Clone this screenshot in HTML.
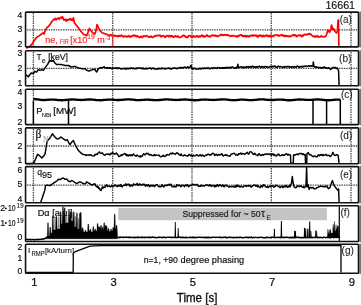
<!DOCTYPE html>
<html><head><meta charset="utf-8"><style>
html,body{margin:0;padding:0;background:#fff;width:361px;height:305px;overflow:hidden}
svg{display:block;will-change:transform}
text{font-family:"Liberation Sans",sans-serif}
</style></head><body>
<svg width="361" height="305" viewBox="0 0 361 305">
<rect width="361" height="305" fill="#fff"/>
<rect x="359.3" y="11.5" width="1.7" height="36" fill="#7a7a7a"/>
<rect x="359.3" y="50.2" width="1.7" height="36.2" fill="#7a7a7a"/>
<rect x="359.3" y="88.7" width="1.7" height="36.5" fill="#7a7a7a"/>
<rect x="359.3" y="127.3" width="1.7" height="37" fill="#7a7a7a"/>
<rect x="359.3" y="166" width="1.7" height="37.4" fill="#7a7a7a"/>
<rect x="359.3" y="205.2" width="1.7" height="36.9" fill="#7a7a7a"/>
<rect x="359.3" y="243.7" width="1.7" height="30.2" fill="#7a7a7a"/>
<line x1="33.4" y1="13" x2="33.4" y2="46.1" stroke="#4a4a4a" stroke-width="1.3" stroke-dasharray="1.5,0.9"/>
<line x1="112.7" y1="13" x2="112.7" y2="46.1" stroke="#4a4a4a" stroke-width="1.3" stroke-dasharray="1.5,0.9"/>
<line x1="192.0" y1="13" x2="192.0" y2="46.1" stroke="#4a4a4a" stroke-width="1.3" stroke-dasharray="1.5,0.9"/>
<line x1="271.3" y1="13" x2="271.3" y2="46.1" stroke="#4a4a4a" stroke-width="1.3" stroke-dasharray="1.5,0.9"/>
<line x1="351.0" y1="13" x2="351.0" y2="46.1" stroke="#4a4a4a" stroke-width="1.3" stroke-dasharray="1.5,0.9"/>
<line x1="33.4" y1="52" x2="33.4" y2="85" stroke="#4a4a4a" stroke-width="1.3" stroke-dasharray="1.5,0.9"/>
<line x1="112.7" y1="52" x2="112.7" y2="85" stroke="#4a4a4a" stroke-width="1.3" stroke-dasharray="1.5,0.9"/>
<line x1="192.0" y1="52" x2="192.0" y2="85" stroke="#4a4a4a" stroke-width="1.3" stroke-dasharray="1.5,0.9"/>
<line x1="271.3" y1="52" x2="271.3" y2="85" stroke="#4a4a4a" stroke-width="1.3" stroke-dasharray="1.5,0.9"/>
<line x1="351.0" y1="52" x2="351.0" y2="85" stroke="#4a4a4a" stroke-width="1.3" stroke-dasharray="1.5,0.9"/>
<line x1="33.4" y1="90" x2="33.4" y2="123.8" stroke="#4a4a4a" stroke-width="1.3" stroke-dasharray="1.5,0.9"/>
<line x1="112.7" y1="90" x2="112.7" y2="123.8" stroke="#4a4a4a" stroke-width="1.3" stroke-dasharray="1.5,0.9"/>
<line x1="192.0" y1="90" x2="192.0" y2="123.8" stroke="#4a4a4a" stroke-width="1.3" stroke-dasharray="1.5,0.9"/>
<line x1="271.3" y1="90" x2="271.3" y2="123.8" stroke="#4a4a4a" stroke-width="1.3" stroke-dasharray="1.5,0.9"/>
<line x1="351.0" y1="90" x2="351.0" y2="123.8" stroke="#4a4a4a" stroke-width="1.3" stroke-dasharray="1.5,0.9"/>
<line x1="33.4" y1="129" x2="33.4" y2="162.9" stroke="#4a4a4a" stroke-width="1.3" stroke-dasharray="1.5,0.9"/>
<line x1="112.7" y1="129" x2="112.7" y2="162.9" stroke="#4a4a4a" stroke-width="1.3" stroke-dasharray="1.5,0.9"/>
<line x1="192.0" y1="129" x2="192.0" y2="162.9" stroke="#4a4a4a" stroke-width="1.3" stroke-dasharray="1.5,0.9"/>
<line x1="271.3" y1="129" x2="271.3" y2="162.9" stroke="#4a4a4a" stroke-width="1.3" stroke-dasharray="1.5,0.9"/>
<line x1="351.0" y1="129" x2="351.0" y2="162.9" stroke="#4a4a4a" stroke-width="1.3" stroke-dasharray="1.5,0.9"/>
<line x1="33.4" y1="168" x2="33.4" y2="202" stroke="#4a4a4a" stroke-width="1.3" stroke-dasharray="1.5,0.9"/>
<line x1="112.7" y1="168" x2="112.7" y2="202" stroke="#4a4a4a" stroke-width="1.3" stroke-dasharray="1.5,0.9"/>
<line x1="192.0" y1="168" x2="192.0" y2="202" stroke="#4a4a4a" stroke-width="1.3" stroke-dasharray="1.5,0.9"/>
<line x1="271.3" y1="168" x2="271.3" y2="202" stroke="#4a4a4a" stroke-width="1.3" stroke-dasharray="1.5,0.9"/>
<line x1="351.0" y1="168" x2="351.0" y2="202" stroke="#4a4a4a" stroke-width="1.3" stroke-dasharray="1.5,0.9"/>
<line x1="27" y1="29.8" x2="357.7" y2="29.8" stroke="#4a4a4a" stroke-width="1.3" stroke-dasharray="1.5,0.9"/>
<line x1="27" y1="68.3" x2="357.7" y2="68.3" stroke="#4a4a4a" stroke-width="1.3" stroke-dasharray="1.5,0.9"/>
<line x1="27" y1="146.0" x2="357.7" y2="146.0" stroke="#4a4a4a" stroke-width="1.3" stroke-dasharray="1.5,0.9"/>
<line x1="27" y1="185.1" x2="357.7" y2="185.1" stroke="#4a4a4a" stroke-width="1.3" stroke-dasharray="1.5,0.9"/>
<path d="M26.3,48.2L26.9,47.9L27.5,47.6L28.1,47.3L28.62,46.95L29.15,46.6L29.68,46.25L30.2,45.9L30.7,45.4L31.2,44.9L31.7,44.4L32.2,43.9L32.73,43.02L33.25,42.15L33.77,41.27L34.3,40.4L34.82,39.7L35.35,39L35.88,38.3L36.4,37.6L36.92,37.25L37.45,36.9L37.98,36.55L38.5,36.2L39,35.88L39.5,35.55L40,35.23L40.5,34.9L41.2,34.2L41.9,33.5L42.6,33.15L43.3,32.8L44,34.2L44.7,32.1L45.4,30L46.1,28.95L46.8,27.9L47.32,27.4L47.85,26.9L48.38,26.4L48.9,25.9L49.4,25.2L49.9,24.5L50.4,23.8L50.9,23.1L51.6,22.05L52.3,21L53,20.26L53.7,19.36L54.4,19.76L55.1,18.42L55.8,19.39L56.5,19.64L57.2,18.27L57.9,18.29L58.55,18.2L59.2,19.39L59.9,18.19L60.6,17.33L61.17,17.51L61.73,18.21L62.3,16.73L62.85,17.54L63.4,19.37L64.1,20.08L64.8,19.39L65.5,19.49L66.2,21.16L66.9,19.28L67.6,20.06L68.25,19.94L68.9,19.92L69.6,18.91L70.3,18.52L70.83,19.91L71.35,19.21L71.88,19.87L72.4,20.37L72.95,18.84L73.5,17.93L74.4,22.9L74.95,23.57L75.5,24.25L76.05,24.93L76.6,25.6L77.17,26.3L77.75,27L78.33,27.7L78.9,28.4L79.45,29.22L80,30.05L80.55,30.88L81.1,31.7L81.66,32.26L82.22,32.82L82.78,33.38L83.34,33.94L83.9,34.5L84.44,34.72L84.98,34.94L85.52,35.16L86.06,35.38L86.6,35.6L87.17,34.3L87.73,33L88.3,31.7L88.85,30.05L89.4,28.4L89.95,29.25L90.5,30.1L91.05,30.77L91.6,31.45L92.15,32.12L92.7,32.8L93.25,33.07L93.8,33.35L94.35,33.62L94.9,33.9L95.45,32.25L96,30.6L96.55,27.55L97.1,24.5L97.7,25.9L98.3,27.3L98.83,28.4L99.37,29.5L99.9,30.6L100.45,31.15L101,31.7L101.55,32.25L102.1,32.8L102.67,32.98L103.23,33.17L103.8,33.35L104.37,33.53L104.93,33.72L105.5,33.9L106.04,34.12L106.58,34.34L107.12,34.56L107.66,34.78L108.2,35L108.8,35.27L109.4,35.53L110,35.1L110.5,34.75L111,34.8L111.5,35.57L112,35.49L112.5,35.26L113,35.57L113.5,35.54L114,35.29L114.5,35.98L115,36.16L115.5,35.52L116,35.78L116.5,35.83L117,36.42L117.5,36.47L118,35.8L118.5,36.62L119,35.62L119.5,35.67L120,36.25L120.5,35.55L121,35.79L121.5,35.17L122,35.91L122.5,36.39L123,36.31L123.5,36.76L124,36.06L124.5,36.36L125,36.34L125.5,36.31L126,36.1L126.5,36.63L127,37.03L127.5,36.47L128,36.52L128.5,35.58L129,36.18L129.5,36.37L130,37.01L130.5,37.05L131,36.22L131.5,36.02L132,36.4L132.5,35.55L133,35.89L133.5,35.58L134,35.37L134.5,35.2L135,36.27L135.5,35.75L136,35.71L136.5,35.94L137,36.83L137.5,35.97L138,36.19L138.5,36.47L139,37.14L139.5,37.35L140,37.53L140.5,36.66L141,36.49L141.5,36.32L142,37.08L142.5,37.54L143,36.46L143.5,36.01L144,35.89L144.5,35.84L145,36.22L145.5,36.56L146,36.18L146.5,35.6L147,36L147.5,36.1L148,36.46L148.5,37.24L149,37.17L149.5,36.85L150,36.87L150.5,36.97L151,36.02L151.5,36.95L152,37.17L152.5,37.42L153,37.41L153.5,36.75L154,36.47L154.5,35.87L155,36.44L155.5,35.78L156,35.5L156.5,35.59L157,35.56L157.5,35.83L158,35.49L158.5,35.25L159,35.38L159.5,35.36L160,35.77L160.5,35.41L161,36.6L161.5,36.72L162,36.03L162.5,35.88L163,35.97L163.5,36.03L164,35.67L164.5,36.67L165,37.35L165.5,36.81L166,36.6L166.5,35.86L167,35.56L167.5,35.8L168,35.79L168.5,36.68L169,36.01L169.5,35.49L170,36.74L170.5,36.62L171,35.96L171.5,36.29L172,35.62L172.5,36.11L173,37.05L173.5,37.29L174,37.13L174.5,36.36L175,36.18L175.5,35.78L176,36.57L176.5,36.54L177,36.91L177.5,36.36L178,35.95L178.5,36.7L179,37.31L179.5,37.37L180,37.33L180.5,37.32L181,37.19L181.5,36.31L182,36.37L182.5,36.14L183,35.51L183.5,35.22L184,35.49L184.5,35.58L185,36.31L185.5,37.06L186,36.58L186.5,37.14L187,37.47L187.5,37.57L188,36.66L188.5,36.02L189,35.74L189.5,35.56L190,35.49L190.5,36.13L191,36.85L191.5,37.07L192,36.59L192.5,36.64L193,36.9L193.5,35.86L194,36.31L194.5,36.91L195,36.97L195.5,36.93L196,36.48L196.5,35.79L197,36.45L197.5,36.01L198,36.56L198.5,37.07L199,36.38L199.5,36.07L200,36.8L200.5,36.76L201,35.85L201.5,35.37L202,35.19L202.5,36.31L203,36.65L203.5,35.74L204,36.41L204.5,36.95L205,36.68L205.5,36.06L206,36.09L206.5,35.43L207,34.94L207.5,36.24L208,36.31L208.5,36.14L209,36.71L209.5,36.16L210,36.61L210.5,36.73L211,35.8L211.5,35.43L212,35.33L212.5,35.2L213,35.68L213.5,35.38L214,35.49L214.5,35.07L215,36.12L215.5,35.68L216,35.64L216.5,35.8L217,36.37L217.5,35.84L218,36.38L218.5,35.94L219,35.78L219.5,35.67L220,34.8L220.5,35.07L221,34.76L221.5,34.32L222,35.38L222.5,34.77L223,34.92L223.5,35.33L224,35.2L224.5,34.71L225,34.74L225.5,34.96L226,35.48L226.5,34.69L227,35.11L227.5,34.86L228,34.84L228.5,35.6L229,35.53L229.5,35.59L230,35.95L230.5,36.36L231,35.8L231.5,35.83L232,35.68L232.5,35.64L233,35.91L233.5,35.66L234,35.69L234.5,35.62L235,36.34L235.5,36.29L236,36.56L236.5,36.79L237,35.81L237.5,35.86L238,36.51L238.5,36.64L239,35.59L239.5,35.1L240,35.4L240.5,34.94L241,35.01L241.5,34.77L242,35.62L242.5,36.19L243,36.63L243.5,35.64L244,36.1L244.5,36.22L245,35.45L245.5,36.29L246,36.8L246.5,35.84L247,36.58L247.5,36.03L248,35.93L248.5,36.69L249,36.78L249.5,35.76L250,35.73L250.5,35.85L251,35.63L251.5,35.3L252,35.35L252.5,36.03L253,35.21L253.5,35.7L254,35.74L254.5,35.08L255,35.29L255.5,35.86L256,35.94L256.5,35.26L257,36.43L257.5,36.64L258,37.03L258.5,35.83L259,35.54L259.5,35.06L260,36.02L260.5,35.64L261,35.24L261.5,35.53L262,36.44L262.5,36.7L263,35.92L263.5,35.39L264,36.38L264.5,36.27L265,36.43L265.5,35.52L266,35.06L266.5,35.86L267,35.8L267.5,35.2L268,36.32L268.5,36.33L269,36.61L269.5,35.58L270,36.35L270.5,35.44L271,36.29L271.5,36.03L272,35.72L272.5,35.92L273,36.61L273.5,35.87L274,35.31L274.5,35.69L275,35.4L275.5,35.06L276,34.99L276.5,34.78L277,34.93L277.5,35.17L278,35.26L278.5,36.03L279,35.62L279.5,35.78L280,35.33L280.5,35.4L281,34.9L281.5,35.04L282,34.73L282.5,35.74L283,35.9L283.5,35.39L284,35.62L284.5,36.46L285,35.51L285.5,36.22L286,35.92L286.5,35.88L287,36.41L287.5,35.93L288,35.9L288.5,36.18L289,36.77L289.5,36.01L290,36.45L290.5,36.45L291,36.33L291.5,35.91L292,35.63L292.5,35.03L293,34.88L293.5,34.72L294,35.71L294.5,35.38L295,35.09L295.5,34.83L296,35.92L296.5,36.45L297,36.37L297.5,35.72L298,35.35L298.5,35.27L299,35.5L299.5,35.12L300,35.4L300.5,35.17L301,36.15L301.5,36.57L302,36.03L302.5,35.27L303,36.05L303.5,35.3L304,35.01L304.5,34.27L305,34.5L305.5,34.76L306,34.91L306.5,34.47L307,34.75L307.5,34.05L308,34.14L308.5,33.88L309,34.25L309.5,33.82L310,33.58L310.5,34.12L311,34.34L311.5,35.11L312,35.46L312.5,36.08L313.01,36.21L313.52,36.41L314.04,36.81L314.55,36.25L315.06,35.95L315.58,36.92L316.09,36.06L316.6,36.65L317.12,36.72L317.64,35.79L318.15,36.62L318.67,37.08L319.19,36.85L319.71,36.91L320.23,37.05L320.75,36.03L321.26,36.17L321.78,36.2L322.3,36.73L322.84,36.85L323.39,36.91L323.93,36.5L324.47,36.78L325.01,36.52L325.56,36.39L326.1,35.54L327,33.18L327.8,29.8L328.7,31L329.5,32.3L330.15,31.05L330.8,29.8L331.5,25.1L332.1,26.8L332.9,29.8L333.8,28.9L334.45,30.2L335.1,31.5L335.7,32.15L336.3,32.8L336.85,32.35L337.4,31.9L338,20.4L338.5,20L338.9,47.5" fill="none" stroke="#f00" stroke-width="1.7" stroke-linejoin="round"/>
<path d="M26,75.6L26.7,75.2L27.23,75.73L27.77,76.27L28.3,76.8L28.87,76L29.43,75.2L30,74.4L30.53,73.9L31.07,73.4L31.6,72.9L32.17,73.13L32.73,73.37L33.3,73.6L33.87,72.83L34.43,72.07L35,71.3L35.53,71.57L36.07,71.83L36.6,72.1L37.17,71.27L37.73,70.43L38.3,69.6L38.87,69.87L39.43,70.13L40,70.4L40.53,70.13L41.07,69.87L41.6,69.6L42.17,69.87L42.73,70.13L43.3,70.4L43.83,69.57L44.37,68.73L44.9,67.9L45.4,67.24L45.9,66.58L46.4,65.92L46.9,65.26L47.4,64.6L47.9,63.78L48.4,62.96L48.9,62.14L49.4,61.32L49.9,60.5L50.47,60.77L51.03,61.03L51.6,61.3L52.17,61.03L52.73,60.77L53.3,60.5L53.83,61.33L54.37,62.17L54.9,63L55.47,63.53L56.03,64.07L56.6,64.6L57.13,64.6L57.67,64.6L58.2,64.6L58.77,64.6L59.33,64.6L59.9,64.6L60.47,64.6L61.03,64.6L61.6,64.6L62.15,64.73L62.7,64.87L63.25,65L63.8,65.13L64.35,65.27L64.9,65.4L65.45,65.4L66,65.4L66.55,65.4L67.1,65.4L67.65,65.4L68.2,65.4L68.75,65.68L69.3,65.97L69.85,66.25L70.4,66.53L70.95,66.82L71.5,67.1L72.07,66.97L72.63,66.83L73.2,66.7L73.77,66.57L74.33,66.43L74.9,66.3L75.45,66.57L76,66.83L76.55,67.1L77.1,67.37L77.65,67.63L78.2,67.9L78.75,68.02L79.3,68.13L79.85,68.25L80.4,68.37L80.95,68.48L81.5,68.6L82,68.63L82.5,68.66L83,68.69L83.5,68.71L84,68.74L84.5,68.77L85,68.8L85.53,69.27L86.07,69.73L86.6,70.2L87.1,70.38L87.6,70.56L88.1,70.74L88.6,70.92L89.1,71.1L89.6,70.86L90.1,70.62L90.6,70.38L91.1,70.14L91.6,69.9L92.17,69.8L92.73,69.7L93.3,69.6L93.87,69.5L94.43,69.4L95,69.3L95.6,70.55L96.2,71.8L96.8,71.9L97.3,70.87L97.8,69.83L98.3,68.8L98.85,68.6L99.4,68L99.95,67.93L100.5,67.48L101.05,68.01L101.6,67.73L102.1,67.68L102.6,67.59L103.1,67.56L103.6,67.27L104.1,66.57L104.62,67.42L105.15,67.72L105.67,67.65L106.2,67.77L106.72,68.05L107.25,67.58L107.77,68.28L108.3,68.07L108.84,67.72L109.39,67.79L109.93,68.29L110.48,67.84L111.02,68.26L111.57,68.61L112.11,68.16L112.66,67.87L113.2,67.85L113.72,68.15L114.23,68.37L114.75,68.32L115.26,68.37L115.78,67.81L116.29,67.76L116.81,67.91L117.32,68.53L117.84,68.28L118.35,68.54L118.87,68.05L119.38,68L119.9,68.25L120.45,68.76L121,68.93L121.55,68.96L122.1,68.55L122.65,68.67L123.2,68.65L123.72,68.62L124.23,68.2L124.75,68.91L125.26,68.34L125.78,69L126.29,69.13L126.81,68.14L127.32,68.3L127.84,68.73L128.35,69L128.87,68.49L129.38,68.11L129.9,67.92L130.41,68.68L130.91,68.1L131.41,68.34L131.92,67.93L132.43,68.24L132.93,68.8L133.44,68.07L133.94,68.61L134.44,68.44L134.95,68.8L135.46,68.71L135.96,68.17L136.47,68.75L136.97,68.47L137.47,67.88L137.98,67.69L138.49,68.17L138.99,68.27L139.5,68.14L140,67.93L140.5,68.09L141,68.11L141.5,68.7L142,67.96L142.5,68.56L143,68.84L143.5,68.14L144,68.82L144.5,68.79L145,69L145.5,68.39L146,68.3L146.5,68.3L147,68.97L147.5,68.72L148,68.4L148.5,68.38L149,68.21L149.5,67.91L150,67.89L150.5,68.69L151,68.33L151.5,68.94L152,68.37L152.5,68.22L153,68.45L153.5,68.17L154,68.29L154.5,68.97L155,69.1L155.5,69.06L156,68.86L156.5,69.11L157,69.22L157.5,68.82L158,68.9L158.5,68.18L159,68.73L159.5,68.58L160,68.87L160.5,68.84L161,68.43L161.5,68.05L162,68.89L162.5,68.27L163,68.45L163.5,68.37L164,68.29L164.5,68.75L165,69.14L165.5,68.47L166,68.7L166.5,68.38L167,68.56L167.5,68.44L168,68.15L168.5,68.05L169,68.07L169.5,68.84L170,68.62L170.5,68.25L171,68.89L171.5,69.18L172,68.66L172.5,68.16L173,68.07L173.5,67.93L174,68.16L174.5,67.95L175,68.05L175.5,68.04L176,68.35L176.5,68.75L177,68.68L177.5,68.25L178,68.08L178.5,68.12L179,67.92L179.5,67.79L180,67.4L180.5,67.49L181,68.23L181.5,67.49L182,67.65L182.5,67.79L183,68.05L183.5,67.38L184,67.2L184.5,67.09L185,67.18L185.5,67.25L186,67.82L186.5,67.86L187,67.89L187.5,66.94L188,66.66L188.5,67.3L189,67.69L189.5,67.33L190,67.33L190.5,65.89L191,65.33L191.5,66.99L192,68.07L192.5,69.13L193.03,69.29L193.55,68.55L194.08,68.18L194.61,68.12L195.14,68.52L195.66,68.82L196.19,69.2L196.72,69.08L197.25,68.97L197.77,69.07L198.3,68.77L198.81,68.76L199.31,68.18L199.82,68.81L200.32,68.38L200.83,69L201.34,68.87L201.84,68.44L202.35,68.11L202.85,68.13L203.36,68.55L203.87,68.73L204.37,68.12L204.88,67.88L205.38,68.3L205.89,68.47L206.4,68.3L206.9,68.05L207.41,68.38L207.92,67.82L208.42,67.96L208.93,68.16L209.43,68.76L209.94,68.58L210.45,68.77L210.95,68.37L211.46,67.97L211.96,67.85L212.47,68.59L212.98,68.52L213.48,68.05L213.99,67.58L214.49,67.95L215,68.24L215.5,68.04L216,67.79L216.5,68.15L217,68.54L217.5,67.87L218,67.45L218.5,67.65L219,67.79L219.5,68.11L220,67.66L220.5,68.17L221,68.25L221.5,68.01L222,67.6L222.5,68.3L223,67.78L223.5,68.17L224,67.63L224.5,67.45L225,67.97L225.5,67.61L226,68.21L226.5,67.88L227,67.43L227.5,67.33L228,67.5L228.5,67.81L229,68.21L229.5,67.43L230,67.46L230.5,67.26L231,68.03L231.5,67.33L232,67.01L232.5,66.91L233,67.24L233.5,67.88L234,68.04L234.5,67.91L235,68.15L235.5,68.14L236,67.47L236.5,67.09L237,67.79L237.5,67.78L237.9,64.2L238.4,67.46L238.93,67.28L239.47,67.23L240,67.16L240.5,66.94L241,66.67L241.5,66.88L242,67L242.5,67.69L243,66.96L243.5,67.65L244,67.01L244.5,66.96L245,67.44L245.5,67.57L246,67.16L246.5,66.6L247,66.88L247.5,66.83L248,67.4L248.5,66.76L249,66.74L249.5,67.3L250,66.5L250.5,66.68L251,67.17L251.5,67.26L252,66.49L252.5,66.25L253,66.2L253.5,67.13L254,66.67L254.5,67.07L255,67.36L255.5,66.82L256,66.58L256.5,67.26L257,67.09L257.5,66.64L258,67.01L258.5,66.67L259,66.52L259.5,66.18L260,66.9L260.5,67.29L261,67.09L261.5,67.37L262,66.44L262.5,66.38L263,66.63L263.5,67.23L264,67.4L264.5,66.83L265,66.5L265.5,66.6L266,66.69L266.5,67.2L267,66.53L267.5,67L268,67.07L268.5,67.18L269,67.16L269.5,66.96L270,66.59L270.5,66.47L271,66.48L271.5,66.95L272,66.32L272.5,66.27L273,66.86L273.5,66.49L274,66.18L274.5,66.06L275,66.6L275.5,66.51L276,67.21L276.5,67.32L277,67.47L277.5,66.72L278,66.3L278.5,66.19L279,66.61L279.5,66.97L280,66.79L280.5,66.51L281,66.63L281.5,66.89L282,67.03L282.5,67.16L283,67.31L283.5,67.16L284,66.52L284.5,67.12L285,66.7L285.5,66.88L286,66.73L286.5,67.09L287,66.6L287.5,66.52L288,66.49L288.5,66.39L289,67.16L289.5,67.06L290,66.76L290.5,66.73L291,67.36L291.5,67.01L292,66.59L292.5,67.09L293,67.06L293.5,67.41L294,66.53L294.5,66.66L295,67.07L295.5,67.21L296,67.32L296.5,66.38L297,66.37L297.5,66.16L298,66.16L298.5,67.02L299,66.83L299.5,67.15L300,66.62L300.51,66.99L301.02,66.64L301.52,66.31L302.03,66.77L302.54,67.08L303.05,66.24L303.55,66.52L304.06,66.62L304.57,66.19L305.08,66.22L305.58,65.97L306.09,65.95L306.6,65.99L307.13,66.36L307.67,66.51L308.2,66.05L308.73,65.68L309.27,65.9L309.8,66.33L310.33,65.9L310.87,65.9L311.4,65.76L311.93,66.35L312.47,66.24L313,65.65L313.3,62.03L314.1,66.71L314.63,67.03L315.15,67.27L315.68,66.78L316.21,66.76L316.74,67.39L317.26,67.3L317.79,67.18L318.32,67.22L318.85,67.98L319.37,67.55L319.9,67.75L320.4,67.54L320.9,67.53L321.4,68L321.9,68.27L322.4,67.65L322.9,67.26L323.4,67.72L323.9,67.26L324.4,66.89L324.9,67.75L325.47,67.61L326.03,68.08L326.6,67.85L327.17,68.39L327.73,68.17L328.3,67.85L328.9,67.79L329.5,68.52L330.1,68.99L330.7,69.59L331.27,68.39L331.83,68.34L332.4,67.77L332.9,67.81L333.4,67.38L333.9,67.36L334.4,67.58L334.9,68.04L335.4,67.42L335.9,67.74L336.4,68.27L336.9,68.69L337.4,68.05L338,69.14L338.6,71L339.1,86" fill="none" stroke="#000" stroke-width="1.5" stroke-linejoin="round"/>
<path d="M33.4,99.17L33.9,99.18L34.4,99.12L34.9,99.07L35.4,99.24L35.9,99.19L36.4,99.32L36.9,99.32L37.4,99.41L37.9,99.35L38.4,99.51L38.9,99.47L39.4,99.55L39.9,99.67L40.4,99.96L40.9,99.9L41.4,99.94L41.9,99.99L42.4,100.03L42.9,100.02L43.4,99.98L43.9,100L44.4,100.06L44.9,100.07L45.4,99.91L45.9,99.96L46.4,99.96L46.9,99.81L47.4,99.9L47.9,99.74L48.4,99.78L48.9,99.73L49.4,99.71L49.9,99.63L50.4,99.63L50.9,99.64L51.4,99.6L51.9,99.64L52.4,99.61L52.9,99.62L53.4,99.57L53.9,99.7L54.4,99.71L54.9,99.71L55.4,99.84L55.9,99.89L56.4,99.88L56.9,99.89L57.4,99.99L57.9,99.97L58.4,100.02L58.9,100.11L59.4,100.09L59.9,100.18L60.4,100.21L60.9,100.15L61.4,100.25L61.9,100.15L62.4,100.25L62.9,100.23L63.4,100.16L63.9,100.05L64.4,100.08L64.9,100.01L65.4,100.05L65.9,99.86L66.4,99.92L66.9,99.88L67.4,99.78L67.9,99.73L68.4,99.58L68.9,99.66L69.4,99.54L69.9,99.58L70.4,99.55L70.9,99.41L71.4,99.49L71.9,99.51L72.4,99.38L72.9,99.44L73.4,99.53L73.9,99.46L74.4,99.61L74.9,99.55L75.4,99.67L75.9,99.61L76.4,99.71L76.9,99.82L77.4,99.75L77.9,99.8L78.4,99.87L78.9,99.87L79.4,99.85L79.9,99.89L80.4,99.89L80.9,100.02L81.4,99.97L81.9,100L82.4,99.86L82.9,99.93L83.4,99.79L83.9,99.82L84.4,99.8L84.9,99.72L85.4,99.76L85.9,99.66L86.4,99.62L86.9,99.63L87.4,99.48L87.9,99.59L88.4,99.51L88.9,99.46L89.4,99.51L89.9,99.43L90.4,99.55L90.9,99.5L91.4,99.49L91.9,99.59L92.4,99.58L92.9,99.58L93.4,99.72L93.9,99.66L94.4,99.85L94.9,99.81L95.4,99.93L95.9,100.05L96.4,100.04L96.9,100.1L97.4,100.09L97.9,100.08L98.4,100.11L98.9,100.16L99.4,100.25L99.9,100.22L100.4,100.23L100.9,100.28L101.4,100.14L101.9,100.13L102.4,100.17L102.9,100.02L103.4,99.98L103.9,99.99L104.4,99.89L104.9,99.88L105.4,99.81L105.9,99.82L106.4,99.77L106.9,99.67L107.4,99.7L107.9,99.65L108.4,99.57L108.9,99.68L109.4,99.56L109.9,99.54L110.4,99.54L110.9,99.64L111.4,99.7L111.9,99.71L112.4,99.68L112.9,99.69L113.4,99.69L113.9,99.83L114.4,99.86L114.9,99.86L115.4,99.94L115.9,99.94L116.4,100.05L116.9,100.04L117.4,99.98L117.9,100.09L118.4,99.95L118.9,100.02L119.4,99.99L119.9,99.94L120.4,99.88L120.9,99.96L121.4,99.79L121.9,99.83L122.4,99.85L122.9,99.67L123.4,99.62L123.9,99.63L124.4,99.57L124.9,99.54L125.4,99.52L125.9,99.38L126.4,99.37L126.9,99.35L127.4,99.29L127.9,99.42L128.4,99.4L128.9,99.4L129.4,99.31L129.9,99.47L130.4,99.49L130.9,99.48L131.4,99.57L131.9,99.58L132.4,99.6L132.9,99.64L133.4,99.72L133.9,99.74L134.4,99.84L134.9,99.96L135.4,100L135.9,100.07L136.4,100.08L136.9,100.04L137.4,100.1L137.9,100.1L138.4,100.16L138.9,100.11L139.4,100.06L139.9,100.1L140.4,100.12L140.9,99.97L141.4,100.04L141.9,99.86L142.4,99.86L142.9,99.82L143.4,99.86L143.9,99.85L144.4,99.78L144.9,99.68L145.4,99.75L145.9,99.64L146.4,99.61L146.9,99.71L147.4,99.67L147.9,99.69L148.4,99.7L148.9,99.77L149.4,99.72L149.9,99.81L150.4,99.83L150.9,99.9L151.4,99.87L151.9,99.96L152.4,99.99L152.9,99.99L153.4,100.01L153.9,100.11L154.4,100.06L154.9,100.22L155.4,100.11L155.9,100.1L156.4,100.12L156.9,100.24L157.4,100.13L157.9,100.07L158.4,100.02L158.9,99.99L159.4,100.05L159.9,99.99L160.4,99.94L160.9,99.89L161.4,99.72L161.9,99.75L162.4,99.65L162.9,99.67L163.4,99.62L163.9,99.58L164.4,99.41L164.9,99.5L165.4,99.49L165.9,99.47L166.4,99.33L166.9,99.34L167.4,99.34L167.9,99.34L168.4,99.5L168.9,99.52L169.4,99.53L169.9,99.6L170.4,99.62L170.9,99.61L171.4,99.63L171.9,99.67L172.4,99.83L172.9,99.78L173.4,99.84L173.9,99.89L174.4,99.85L174.9,99.91L175.4,99.93L175.9,100.01L176.4,99.95L176.9,99.93L177.4,100.02L177.9,99.92L178.4,99.95L178.9,99.88L179.4,99.75L179.9,99.77L180.4,99.74L180.9,99.75L181.4,99.65L181.9,99.67L182.4,99.61L182.9,99.53L183.4,99.61L183.9,99.47L184.4,99.58L184.9,99.48L185.4,99.46L185.9,99.51L186.4,99.62L186.9,99.69L187.4,99.57L187.9,99.69L188.4,99.74L188.9,99.84L189.4,99.8L189.9,99.9L190.4,99.94L190.9,100.07L191.4,100.03L191.9,100.18L192.4,100.12L192.9,100.14L193.4,100.25L193.9,100.24L194.4,100.19L194.9,100.27L195.4,100.18L195.9,100.27L196.4,100.23L196.9,100.22L197.4,100.15L197.9,100.07L198.4,100.02L198.9,99.97L199.4,100L199.9,99.81L200.4,99.88L200.9,99.69L201.4,99.67L201.9,99.63L202.4,99.7L202.9,99.6L203.4,99.55L203.9,99.61L204.4,99.5L204.9,99.53L205.4,99.55L205.9,99.59L206.4,99.61L206.9,99.62L207.4,99.6L207.9,99.63L208.4,99.65L208.9,99.79L209.4,99.81L209.9,99.86L210.4,99.8L210.9,99.88L211.4,99.96L211.9,99.96L212.4,99.9L212.9,99.97L213.4,100.04L213.9,99.93L214.4,99.91L214.9,99.91L215.4,99.95L215.9,99.94L216.4,99.79L216.9,99.75L217.4,99.72L217.9,99.68L218.4,99.66L218.9,99.56L219.4,99.54L219.9,99.47L220.4,99.56L220.9,99.49L221.4,99.36L221.9,99.48L222.4,99.33L222.9,99.37L223.4,99.47L223.9,99.45L224.4,99.46L224.9,99.45L225.4,99.45L225.9,99.56L226.4,99.53L226.9,99.6L227.4,99.68L227.9,99.69L228.4,99.8L228.9,99.93L229.4,99.97L229.9,99.99L230.4,100.06L230.9,100.07L231.4,100.06L231.9,100.16L232.4,100.14L232.9,100.21L233.4,100.24L233.9,100.16L234.4,100.16L234.9,100.17L235.4,100.09L235.9,100.03L236.4,100.07L236.9,100.05L237.4,99.99L237.9,99.93L238.4,99.91L238.9,99.84L239.4,99.79L239.9,99.73L240.4,99.67L240.9,99.7L241.4,99.6L241.9,99.64L242.4,99.69L242.9,99.68L243.4,99.68L243.9,99.64L244.4,99.69L244.9,99.73L245.4,99.79L245.9,99.79L246.4,99.88L246.9,99.96L247.4,99.88L247.9,100L248.4,100.05L248.9,100.03L249.4,100.07L249.9,100.17L250.4,100.03L250.9,100.12L251.4,100.06L251.9,100.15L252.4,100.16L252.9,100.07L253.4,99.97L253.9,100.01L254.4,99.96L254.9,99.93L255.4,99.85L255.9,99.81L256.4,99.78L256.9,99.68L257.4,99.6L257.9,99.63L258.4,99.47L258.9,99.5L259.4,99.41L259.9,99.44L260.4,99.32L260.9,99.44L261.4,99.33L261.9,99.29L262.4,99.34L262.9,99.38L263.4,99.34L263.9,99.45L264.4,99.49L264.9,99.58L265.4,99.57L265.9,99.61L266.4,99.66L266.9,99.79L267.4,99.87L267.9,99.85L268.4,99.85L268.9,99.98L269.4,99.95L269.9,99.94L270.4,99.95L270.9,100.06L271.4,100.07L271.9,100.03L272.4,100L272.9,99.99L273.4,99.91L273.9,100L274.4,99.87L274.9,99.88L275.4,99.86L275.9,99.83L276.4,99.73L276.9,99.67L277.4,99.68L277.9,99.58L278.4,99.67L278.9,99.58L279.4,99.65L279.9,99.55L280.4,99.58L280.9,99.57L281.4,99.62L281.9,99.61L282.4,99.62L282.9,99.77L283.4,99.75L283.9,99.79L284.4,99.85L284.9,99.93L285.4,99.98L285.9,100.06L286.4,100.11L286.9,100.1L287.4,100.23L287.9,100.25L288.4,100.15L288.9,100.28L289.4,100.3L289.9,100.28L290.4,100.17L290.9,100.26L291.4,100.2L291.9,100.06L292.4,100.02L292.9,100.12L293.4,100.02L293.9,99.9L294.4,99.82L294.9,99.77L295.4,99.72L295.9,99.76L296.4,99.63L296.9,99.56L297.4,99.63L297.9,99.58L298.4,99.45L298.9,99.55L299.4,99.49L299.9,99.52L300.4,99.5L300.9,99.55L301.4,99.55L301.9,99.59L302.4,99.52L302.9,99.63L303.4,99.65L303.9,99.72L304.4,99.72L304.9,99.83L305.4,99.82L305.9,99.81L306.4,99.84L306.9,99.85L307.4,99.93L307.9,99.87L308.4,99.94L308.9,99.89L309.4,99.94L309.9,99.93L310.4,99.91L310.9,99.94L311.4,99.77L311.9,99.86L312.4,99.76L312.9,99.73L313.4,99.71L313.9,99.69L314.4,99.57L314.9,99.54L315.4,99.59L315.9,99.42L316.4,99.49L316.9,99.47L317.4,99.36L317.9,99.46L318.4,99.48L318.9,99.53L319.4,99.46L319.9,99.6L320.4,99.56L320.9,99.6L321.4,99.72L321.9,99.64L322.4,99.8L322.9,99.85L323.4,99.86L323.9,100L324.4,99.98L324.9,100.05L325.4,100.1L325.9,100.18L326.4,100.12L326.9,100.19L327.4,100.2L327.9,100.23L328.4,100.27L328.9,100.18L329.4,100.25L329.9,100.15L330.4,100.14L330.9,100.06L331.4,100.06L331.9,100.08L332.4,99.98L332.9,99.96L333.4,99.83L333.9,99.78L334.4,99.74L334.9,99.74L335.4,99.71L335.9,99.71L336.4,99.57L336.9,99.66L337.4,99.68L337.9,99.63L338.4,99.55L338.9,99.61L339.4,99.58L339.9,99.64L340.4,99.8" fill="none" stroke="#000" stroke-width="2.3" stroke-linejoin="round"/>
<path d="M33.4,101L33.4,124" stroke="#000" stroke-width="1.4"/>
<path d="M68.5,100L68.5,124" stroke="#000" stroke-width="1.5"/>
<path d="M313.0,100L313.0,124" stroke="#000" stroke-width="1.5"/>
<path d="M326.6,100L326.6,124" stroke="#000" stroke-width="1.5"/>
<path d="M340.3,100L340.3,124" stroke="#000" stroke-width="1.5"/>
<path d="M26,163.4L26.73,163.4L27.47,163.4L28.2,163.4L28.93,163.4L29.67,163.4L30.4,163.4L31.13,163.4L31.87,163.4L32.6,163.4L33.45,162.75L34.3,162.1L35.15,160L36,157.9L36.8,156.1L37.6,154.3L38.45,154.85L39.3,155.4L40.13,156.23L40.97,157.07L41.8,157.9L42.65,157.1L43.5,156.3L44.3,155.05L45.1,153.8L45.95,148.4L46.8,143L47.6,140.5L48.45,139.65L49.3,138.8L50.1,137.55L50.9,136.3L52.3,133.8L53.3,135.05L54.3,136.3L55.1,137.13L55.9,137.97L56.7,138.8L57.55,138.8L58.4,138.8L59.23,138.23L60.07,137.67L60.9,137.1L61.73,137.67L62.57,138.23L63.4,138.8L64.23,139.37L65.07,139.93L65.9,140.5L67.2,139.6L68.05,141.3L68.9,143L70,144.6L70.85,143.35L71.7,142.1L72.55,141.3L73.4,140.5L74.23,142.43L75.07,144.37L75.9,146.3L76.73,147.67L77.57,149.03L78.4,150.4L79.2,151.23L80,152.07L80.8,152.9L81.63,153.47L82.47,154.03L83.3,154.6L84.2,154.6L85.1,154.6L86,155.44L86.8,155.01L87.6,154.9L88.4,155.05L89.2,155.28L90,154.7L90.83,154.94L91.65,155.31L92.47,155.84L93.3,156.08L94.12,155.8L94.95,154.5L95.77,154.69L96.6,154.08L97.31,154.38L98.03,153L98.74,152.52L99.46,151.9L100.17,153.01L100.89,153.51L101.6,153.02L102.42,152.98L103.25,154.28L104.08,155.07L104.9,155.3L105.61,154.44L106.33,154.16L107.04,154.22L107.76,153.96L108.47,154.02L109.19,154.39L109.9,155.03L110.61,153.42L111.33,153.81L112.04,152.81L112.76,152.55L113.47,153.77L114.19,153.65L114.9,154.22L115.61,153.86L116.33,153.09L117.04,153.79L117.76,154.67L118.47,155.89L119.19,156.62L119.9,156.09L120.61,155.55L121.33,154.66L122.04,155.36L122.76,154.67L123.47,154.23L124.19,153.73L124.9,153.46L125.61,154.88L126.33,154.32L127.04,155.89L127.76,154.76L128.47,156L129.19,155.03L129.9,154.54L130.6,155.62L131.3,154.97L132,155.65L132.7,154.72L133.4,154.05L134.1,155.18L134.8,155.39L135.54,155.97L136.29,156.04L137.03,154.89L137.77,155.7L138.51,156.27L139.26,156.09L140,157.09L140.75,155.76L141.5,156.55L142.25,156.16L143,154.44L143.75,153.68L144.5,154.51L145.25,154.97L146,153.49L146.75,153.26L147.5,153.85L148.32,153.44L149.14,154.96L149.96,155.01L150.78,154.45L151.6,155.15L152.31,155.54L153.03,155.33L153.74,155.66L154.46,154.64L155.17,155.51L155.89,154.88L156.6,155.14L157.34,155.39L158.09,155.15L158.83,155.09L159.58,155.96L160.32,156.68L161.07,156.71L161.81,156.37L162.56,155.8L163.3,155.23L164.12,156.46L164.93,156.12L165.75,156.02L166.57,154.77L167.38,154.65L168.2,155.13L168.91,154.95L169.63,154.32L170.34,153.4L171.06,153.21L171.77,153.95L172.49,153.07L173.2,153.27L173.91,153.4L174.63,154.15L175.34,154.35L176.06,153.48L176.77,152.72L177.49,153.09L178.2,153.65L178.91,154.23L179.63,154.97L180.34,155.44L181.06,153.99L181.77,155.14L182.49,155.57L183.2,155.91L183.94,155.43L184.67,154.7L185.41,155.62L186.15,155.88L186.89,155.75L187.62,156.18L188.36,155.23L189.1,154.39L189.84,155.06L190.57,155.81L191.31,154.9L192.05,155.71L192.79,156.38L193.53,155.24L194.26,155.61L195,155.91L195.73,155.55L196.45,154.89L197.18,154.74L197.91,155.67L198.64,156.06L199.36,155.52L200.09,154.57L200.82,155.66L201.55,155.96L202.27,154.97L203,155.3L203.73,156.04L204.45,156.26L205.18,155.59L205.91,155.26L206.64,155.35L207.36,154.57L208.09,154.28L208.82,154.15L209.55,155.13L210.27,154.78L211,155.04L211.75,153.97L212.5,153.27L213.25,153.44L214,153.84L214.73,155.59L215.45,154.95L216.18,154.2L216.91,154.98L217.64,155.57L218.36,154.51L219.09,155.02L219.82,154.7L220.55,154.93L221.27,154.02L222,153.72L222.73,155.53L223.45,155.92L224.18,155.29L224.91,155.24L225.64,154.61L226.36,155.42L227.09,155L227.82,155.89L228.55,155.85L229.27,155.93L230,156.25L230.72,154.87L231.44,153.9L232.16,153.83L232.88,153.72L233.6,153.43L234.32,153.21L235.04,154.1L235.76,154.98L236.48,154.41L237.2,155.14L237.92,155.27L238.64,153.57L239.36,153.99L240.08,153.69L240.8,152.97L241.52,154.35L242.24,153.37L242.96,153.6L243.68,153.77L244.4,154.42L245.12,154.01L245.84,153.27L246.56,153.07L247.28,152.37L248,153.68L248.72,154.14L249.44,152.71L250.16,151.79L250.88,151.85L251.6,152.01L252.37,153.49L253.14,154.19L253.91,154.49L254.69,153.2L255.46,154.41L256.23,154.87L257,155.09L257.73,155.76L258.46,154.14L259.19,153.76L259.92,154.86L260.65,155.62L261.38,155.38L262.11,154.54L262.84,154.85L263.57,155.29L264.3,154.16L265.03,154.21L265.76,154.1L266.49,153.8L267.22,154.43L267.95,154.03L268.68,154.04L269.41,153.86L270.14,154.88L270.87,153.91L271.6,154.99L272.32,154.32L273.03,153.77L273.75,155.36L274.46,154.5L275.18,155.63L275.9,155.89L276.61,156.02L277.33,154.57L278.04,154.68L278.76,154.02L279.48,155.45L280.19,155.78L280.91,155.46L281.62,155L282.34,154.62L283.06,155.45L283.77,155.05L284.49,155.21L285.2,154.29L285.92,154.13L286.64,153.74L287.35,154.92L288.07,155.01L288.78,154.23L289.5,154.9L290.5,155L290.8,163.3L291.63,163.3L292.47,163.3L293.3,163.3L293.6,154.7L294.4,155.36L295.2,154.67L296,154.7L296.77,154.1L297.53,153.95L298.3,154.69L299.07,154.02L299.83,153.4L300.6,153.58L301.45,153.53L302.3,154.52L303.15,153.66L304,154.81L305.2,154.5L305.5,163.3L306.7,163.3L307,153.5L308.3,152.59L309.12,154.28L309.95,154.9L310.78,154.78L311.6,155.55L312.45,156.06L313.3,156.67L314.12,156.16L314.95,156L315.78,156.7L316.6,156.72L317.31,156.62L318.03,155.19L318.74,154.92L319.46,155.72L320.17,154.59L320.89,155.19L321.6,154.63L322.35,155.65L323.1,154.52L323.85,155.44L324.6,155.07L325.35,154.67L326.1,154.36L326.85,155.64L327.6,155.64L328.35,155.15L329.1,155.43L330.05,156.52L331,155.95L331.95,154.58L332.9,152.33L334.1,154.99L334.9,155.48L335.7,155.3L336.53,154.82L337.37,154.64L338.2,155.7L339.1,163.5" fill="none" stroke="#000" stroke-width="1.45" stroke-linejoin="round"/>
<path d="M40.6,202.6L41.6,199.65L42.6,196.7L43.6,193.8L44.6,190.9L45.6,185.6L46.8,185.1L47.62,185.22L48.45,185.35L49.27,185.47L50.1,185.6L50.95,184.95L51.8,184.3L52.63,183.73L53.47,183.17L54.3,182.6L55.1,182.07L55.9,181.53L56.7,181L57.55,180.15L58.4,179.3L59.25,179.45L60.1,179.6L60.9,179.05L61.7,178.5L62.55,178.25L63.4,178L64.25,178.65L65.1,179.3L65.9,179.15L66.7,179L67.55,180L68.4,181L69.2,181.4L70,181.8L70.85,181.2L71.7,180.6L72.55,180.95L73.4,181.3L74.2,181.95L75,182.6L75.85,183.05L76.7,183.5L77.55,183.05L78.4,182.6L79.2,182.2L80,181.8L80.85,182.2L81.7,182.6L82.5,183.05L83.3,183.5L84.15,183.7L85,183.9L85.83,183.37L86.67,181.76L87.5,182.26L88.33,183.04L89.17,183.24L90,183.66L90.83,184.43L91.65,184.79L92.47,185.05L93.3,184.41L94.12,183.9L94.95,183.83L95.77,185.99L96.6,186.22L97.3,187.42L98,186.4L98.7,188.41L99.4,188.12L100.1,189.71L100.8,190.59L101.63,189.04L102.47,186.84L103.3,188.02L104.12,187.03L104.95,187.46L105.77,185.72L106.6,184.69L107.42,186.57L108.25,186.18L109.08,185.8L109.9,186.49L110.73,186.99L111.55,185.48L112.38,186.25L113.2,186.16L114.05,186.09L114.9,184.85L115.75,185.83L116.6,186.2L117.3,186.56L118,185.29L118.7,185.95L119.4,185.32L120.1,186.12L120.8,184.6L121.5,186.28L122.21,186.87L122.93,185.77L123.64,185.41L124.36,185.27L125.07,185.16L125.79,183.71L126.5,185.65L127.21,184.57L127.93,184.29L128.64,184.16L129.36,184.67L130.07,186.45L130.79,185.1L131.5,185.03L132.21,186.15L132.93,184.92L133.64,183.85L134.36,184.79L135.07,184.76L135.79,184.36L136.5,184.46L137.2,183.31L137.9,185.16L138.6,185.51L139.3,184.07L140,184.03L140.7,184.91L141.41,185.19L142.11,184.7L142.82,184.15L143.52,184.73L144.23,184.2L144.93,185.23L145.63,186.24L146.34,184.69L147.04,185.34L147.75,185.99L148.45,184.67L149.15,186L149.86,186.69L150.56,185.47L151.27,185.19L151.97,186.2L152.68,185.69L153.38,185.2L154.08,186.48L154.79,186.44L155.49,185.29L156.2,184.69L156.9,184.76L157.61,185.05L158.31,186.55L159.01,186.55L159.72,186.83L160.42,186.67L161.13,186.7L161.83,184.65L162.54,185.25L163.24,186.57L163.94,186.91L164.65,185.24L165.35,185.19L166.06,185.72L166.76,185.19L167.46,185.46L168.17,184.35L168.87,184.96L169.58,185.34L170.28,184.19L170.99,184.16L171.69,186.31L172.39,186.46L173.1,186.92L173.8,186.28L174.51,186.54L175.21,186.82L175.92,186.91L176.62,184.73L177.32,185.65L178.03,184.96L178.73,185.83L179.44,185.04L180.14,185.5L180.85,186.64L181.55,186.19L182.25,185.1L182.96,185.47L183.66,185.36L184.37,186.68L185.07,185.35L185.77,185L186.48,185.79L187.18,184.66L187.89,185.56L188.59,186.77L189.3,185.98L190,185.11L190.7,185.37L191.41,185.63L192.11,184.71L192.82,184.37L193.52,184.29L194.23,184.7L194.93,185.12L195.63,184.94L196.34,184.77L197.04,184.32L197.75,185.38L198.45,186.47L199.15,186.2L199.86,186.02L200.56,186.18L201.27,185.06L201.97,186.05L202.68,185.71L203.38,185.83L204.08,186.04L204.79,185.74L205.49,185.24L206.2,184.91L206.9,184.77L207.61,185.48L208.31,185.37L209.01,185.86L209.72,184.52L210.42,185.01L211.13,186.48L211.83,185.31L212.54,185.79L213.24,185.77L213.94,185.23L214.65,186.9L215.35,185.6L216.06,186.46L216.76,185.12L217.46,184.49L218.17,186.39L218.87,185.84L219.58,184.7L220.28,185.21L220.99,185.5L221.69,186.36L222.39,185L223.1,184.89L223.8,186.77L224.51,186.77L225.21,185.25L225.92,185.27L226.62,185.33L227.32,186.18L228.03,186.29L228.73,186.94L229.44,187.06L230.14,186.31L230.85,186.66L231.55,186.79L232.25,186.87L232.96,186.16L233.66,186.75L234.37,186.74L235.07,187.27L235.77,185.39L236.48,186.76L237.18,184.93L237.89,186.36L238.59,186.32L239.3,186.09L240,187.23L240.7,186.56L241.41,185.96L242.11,186.73L242.82,187.2L243.52,186.65L244.23,185.89L244.93,185.86L245.63,185.86L246.34,186.56L247.04,185.65L247.75,185.63L248.45,186.06L249.15,185.74L249.86,185.49L250.56,186.62L251.27,187.13L251.97,186.37L252.68,186L253.38,185.22L254.08,185.3L254.79,184.91L255.49,185.91L256.2,186.23L256.9,185.05L257.61,186.86L258.31,185.85L259.01,186.9L259.72,187.21L260.42,187.61L261.13,185.77L261.83,185.8L262.54,187.07L263.24,185.12L263.94,184.63L264.65,185.83L265.35,186.01L266.06,187.17L266.76,187.14L267.46,186.52L268.17,187.53L268.87,186.59L269.58,186.3L270.28,186.66L270.99,186L271.69,185.72L272.39,186.25L273.1,185.78L273.8,187.19L274.51,186.91L275.21,186.44L275.92,185.19L276.62,185.53L277.32,185.71L278.03,186.18L278.73,186.36L279.44,187.21L280.14,187.68L280.85,186.59L281.55,186.14L282.25,186.48L282.96,187.56L283.66,186.18L284.37,186.26L285.07,187.03L285.77,185.58L286.48,185.53L287.18,187.24L287.89,187.35L288.59,186.58L289.3,185.3L290,186.96L290.75,184.6L291.5,183L292.3,176.5L293.2,183L294,186.78L294.71,187.19L295.41,187.68L296.12,187.64L296.82,186.72L297.53,185.94L298.24,186L298.94,186.49L299.65,186.64L300.35,186.08L301.06,185.93L301.76,186.8L302.47,187.03L303.18,186.63L303.88,187.81L304.59,187.48L305.29,186.21L306,186.6L306.6,167.5L307.2,187L308.3,184.8L309.1,189.4L310,187.7L310.83,187.42L311.67,188.06L312.5,187.47L313.33,187.84L314.17,188.84L315,188.92L315.82,188.65L316.65,187.67L317.48,187.55L318.3,187.34L319.12,186.56L319.95,186.56L320.78,186.1L321.6,186.32L322.43,186.49L323.27,186.7L324.1,186.76L324.93,186.36L325.77,186.87L326.6,185.9L327.45,187.19L328.3,188.73L329.1,188.18L329.9,187.7L330.73,185.35L331.57,182.83L332.4,180.6L333.25,183.1L334.1,185.6L334.93,186.63L335.77,187.67L336.6,188.7L337.9,190.3L338.6,189L339.1,202.6" fill="none" stroke="#000" stroke-width="1.45" stroke-linejoin="round"/>
<path d="M26,239.78L26.5,239.34L27,239.31L27.5,239.76L28,239.49L28.5,239.73L29,239.51L29.5,239.4L30,239.46L30.5,239.36L31,239.84L31.5,239.65L32,239.51L32.5,239.57L33,239.53L33.5,239.33L34,239.83L34.5,239.65L35,239.88L35.5,239.53L36,239.61L36.5,239.36L37,239.21L37.5,239.71L38,239.63L38.5,239.28L39,239.6L39.5,239.52L40,239.18L40.5,239.31L41,239.48L41.5,239.15L42,239.37L42.5,238.9L43,238.93L43.5,239.08L44,238.73L44.5,238.55L45,238.66L45.5,238.19L46,238.04L46.5,237.38L47,237.2" fill="none" stroke="#000" stroke-width="1.4"/>
<path d="M47,238.8L54.1,236L54.4,217.1L55,216.5L55.6,217.1L55.9,236L57.6,236L57.9,217.1L58.5,216.5L59.1,217.1L59.4,236L65.7,236L66,215.6L66.6,215L67.2,215.6L67.5,236L71.3,236L71.6,212.6L72.2,212L72.8,212.6L73.1,236L74.4,236L74.7,216.6L75.3,216L75.9,216.6L76.2,236L77.6,236L77.9,218.6L78.5,218L79.1,218.6L79.4,236L82.6,236L82.9,229.6L83.5,229L84.1,229.6L84.4,236L117,238.8Z" fill="#8a8a8a"/>
<path d="M46,238.8L46.5,237.6L47.2,236L47.25,237L47.6,223L48,222.6L48.4,223L48.75,236L49.45,236L49.8,227.4L50.2,227L50.6,227.4L50.95,233L52.05,233L52.4,216.2L52.8,215.8L53.2,216.2L53.55,230L55.65,230L56,216.4L56.4,216L56.8,216.4L57.15,229L59.85,229L60.2,211.9L60.6,211.5L61,211.9L61.35,224L62.15,224L62.5,206.9L62.9,206.5L63.3,206.9L63.65,216L63.95,216L64.3,208.1L64.7,207.7L65.1,208.1L65.45,223L68.25,223L68.6,209.4L69,209L69.4,209.4L69.75,218L69.85,218L70.2,211.9L70.6,211.5L71,211.9L71.35,221L73.05,221L73.4,211.9L73.8,211.5L74.2,211.9L74.55,227L76.15,227L76.5,213.1L76.9,212.7L77.3,213.1L77.65,229L79.15,229L79.5,213.4L79.9,213L80.3,213.4L80.65,218L80.05,218L80.4,212.5L80.8,212.1L81.2,212.5L81.55,231L81.75,231L82.1,228L82.5,227.6L82.9,228L83.25,232L84.85,232L85.2,230.4L85.6,230L86,230.4L86.35,232L87.55,232L87.9,224.3L88.3,223.9L88.7,224.3L89.05,231L89.75,231L90.1,229.4L90.5,229L90.9,229.4L91.25,232L92.55,232L92.9,226.8L93.3,226.4L93.7,226.8L94.05,231L94.45,231L94.8,229.2L95.2,228.8L95.6,229.2L95.95,231L96.85,231L97.2,223.7L97.6,223.3L98,223.7L98.35,229L98.25,229L98.6,226.8L99,226.4L99.4,226.8L99.75,230L99.15,230L99.5,227.4L99.9,227L100.3,227.4L100.65,230.5L100.35,230.5L100.7,225.5L101.1,225.1L101.5,225.5L101.85,231L101.85,231L102.2,227.4L102.6,227L103,227.4L103.35,230.5L103.45,230.5L103.8,223L104.2,222.6L104.6,223L104.95,231L104.65,231L105,225.5L105.4,225.1L105.8,225.5L106.15,230L105.85,230L106.2,226.1L106.6,225.7L107,226.1L107.35,231L107.75,231L108.1,228.6L108.5,228.2L108.9,228.6L109.25,231.5L110.25,231.5L110.6,229.2L111,228.8L111.4,229.2L111.75,231L112.45,231L112.8,227.4L113.2,227L113.6,227.4L113.95,230L113.95,230L114.3,214.4L114.7,214L115.1,214.4L115.45,230.5L114.95,230.5L115.3,228.4L115.7,228L116.1,228.4L116.45,230L115.85,230L116.2,225.5L116.6,225.1L117,225.5L117.35,232L117.4,232L117.6,238.8Z" fill="#000" stroke="#000" stroke-width="0.3" stroke-linejoin="round"/>
<path d="M117.5,237.17L118,237.3L118.5,237.18L119,237.73L119.5,237.25L120,237.44L120.5,237.13L121,237.43L121.5,237.32L122,237.33L122.5,237.1L123,237.14L123.5,237.63L124,237.3L124.5,237.22L125,237.19L125.5,237.25L126,237.22L126.5,237.08L127,237.52L127.5,237.29L128,237.16L128.5,237.55L129,237.12L129.5,237.24L130,237.64L130.5,237.15L131,237.37L131.5,237.64L132,237.62L132.5,237.17L133,237.3L133.5,237.56L134,237.32L134.5,237.73L135,237.2L135.5,237.72L136,237.41L136.5,237.22L137,237.38L137.5,237.15L138,237.55L138.5,237.24L139,237.69L139.5,237.47L140,237.32L140.5,237.23L141,237.49L141.5,237.21L142,237.67L142.5,237.15L143,237.42L143.5,237.44L144,237.25L144.5,237.6L145,237.33L145.5,237.52L146,237.46L146.5,237.28L147,237.34L147.5,237.12L148,237.19L148.5,237.66L149,237.29L149.5,237.53L150,237.14L150.5,237.46L151,237.32L151.5,237.42L152,237.27L152.5,237.11L153,237.28L153.5,237.22L154,237.15L154.5,237.57L155,237.26L155.5,237.35L156,237.7L156.5,237.61L157,237.69L157.5,237.67L158,237.16L158.5,237.26L159,237.09L159.5,237.54L160,237.53L160.5,237.32L161,237.36L161.5,237.53L162,237.56L162.5,237.24L163,237.66L163.5,237.32L164,237.51L164.5,237.2L165,237.15L165.5,237.71L166,237.59L166.5,237.57L167,237.1L167.5,237.1L168,237.19L168.5,237.21L169,237.29L169.5,237.34L170,237.1L170.5,237.29L171,237.52L171.5,237.2L172,237.66L172.5,237.47L173,237.58L173.5,237.25L174,237.38L174.5,237.55L175,237.32L175.5,237.08L176,237.66L176.5,237.62L177,237.28L177.5,237.11L178,237.68L178.5,237.5L179,237.11L179.5,237.25L180,237.16L180.5,237.63L181,237.23L181.5,237.72L182,237.6L182.5,237.14L183,237.57L183.5,237.36L184,237.6L184.5,237.66L185,237.28L185.5,237.14L186,237.74L186.5,237.38L187,237.73L187.5,237.57L188,237.6L188.5,237.66L189,237.52L189.5,237.4L190,237.12L190.5,237.57L191,237.38L191.5,237.44L192,237.73L192.5,237.17L193,237.62L193.5,237.11L194,237.58L194.5,237.65L195,237.27L195.5,237.47L196,237.76L196.5,237.53L197,237.47L197.5,237.26L198,237.13L198.5,237.34L199,237.37L199.5,237.23L200,237.3L200.5,237.18L201,237.58L201.5,237.56L202,237.25L202.5,237.26L203,237.45L203.5,237.4L204,237.74L204.5,237.34L205,237.3L205.5,237.71L206,237.19L206.5,237.48L207,237.32L207.5,237.66L208,237.47L208.5,237.62L209,237.21L209.5,237.56L210,237.51L210.5,237.41L211,237.63L211.5,237.67L212,237.17L212.5,237.3L213,237.35L213.5,237.24L214,237.14L214.5,237.29L215,237.23L215.5,237.59L216,237.41L216.5,237.17L217,237.32L217.5,237.42L218,237.35L218.5,237.21L219,237.15L219.5,237.1L220,237.79L220.5,237.62L221,237.16L221.5,237.6L222,237.78L222.5,237.49L223,237.17L223.5,237.44L224,237.4L224.5,237.23L225,237.48L225.5,237.1L226,237.74L226.5,237.55L227,237.54L227.5,237.75L228,237.56L228.5,237.28L229,237.27L229.5,237.2L230,237.12L230.5,237.64L231,237.69L231.5,237.31L232,237.23L232.5,237.55L233,237.69L233.5,237.75L234,237.22L234.5,237.65L235,237.68L235.5,237.62L236,237.33L236.5,237.23L237,237.68L237.5,237.33L238,237.36L238.5,237.49L239,237.36L239.5,237.69L240,237.27L240.5,237.13L241,237.5L241.5,237.55L242,237.68L242.5,237.6L243,237.74L243.5,237.77L244,237.45L244.5,237.46L245,237.22L245.5,237.32L246,237.51L246.5,237.16L247,237.59L247.5,237.22L248,237.42L248.5,237.79L249,237.17L249.5,237.14L250,237.42L250.5,237.24L251,237.62L251.5,237.11L252,237.7L252.5,237.71L253,237.66L253.5,237.41L254,237.31L254.5,237.57L255,237.47L255.5,237.41L256,237.35L256.5,237.42L257,237.58L257.5,237.69L258,237.75L258.5,237.23L259,237.32L259.5,237.42L260,237.51L260.5,237.36L261,237.25L261.5,237.17L262,237.34L262.5,237.44L263,237.8L263.5,237.75L264,237.72L264.5,237.8L265,237.79L265.5,237.55L266,237.68L266.5,237.16L267,237.59L267.5,237.54L268,237.33L268.5,237.52L269,237.79L269.5,237.45L270,237.57L270.5,237.33L271,237.36L271.5,237.74L272,237.14L272.5,237.25L273,237.59L273.5,237.43L274,237.18L274.5,237.58L275,237.38L275.5,237.53L276,237.41L276.5,237.49L277,237.52L277.5,237.4L278,237.2L278.5,237.25L279,237.75L279.5,237.51L280,237.2L280.5,237.73L281,237.3L281.5,237.19L282,237.5L282.5,237.3L283,237.47L283.5,237.51L284,237.28L284.5,237.53L285,237.2L285.5,237.48L286,237.54L286.5,237.18L287,237.41L287.5,237.18L288,237.43L288.5,237.73L289,237.51L289.5,237.63L290,237.66L290.5,237.21L291,237.82L291.5,237.63L292,237.2L292.5,237.71L293,237.4L293.5,237.25L294,237.8L294.5,237.52L295,237.67L295.5,237.23L296,237.67L296.5,237.17L297,237.3L297.5,237.39L298,237.14L298.5,237.55L299,237.28L299.5,237.34L300,237.63L300.5,237.43L301,237.75L301.5,237.57L302,237.74L302.5,237.53L303,237.78L303.5,237.74L304,237.25L304.5,237.66L305,237.37L305.5,237.67L306,237.61L306.5,237.71L307,237.22L307.5,237.4L308,237.65L308.5,237.8L309,237.64L309.5,237.17L310,237.56L310.5,237.21L311,237.52L311.5,237.7L312,237.22L312.5,237.79L313,237.61L313.5,237.32L314,237.27L314.5,237.45L315,237.73L315.5,237.55L316,237.22L316.5,237.15L317,237.22L317.5,237.7L318,237.27L318.5,237.53L319,237.34L319.5,237.62L320,237.41L320.5,237.24L321,237.75L321.5,237.52L322,237.62L322.5,237.71L323,237.81L323.5,237.15L324,237.38L324.5,237.25L325,237.49L325.5,237.75L326,237.7L326.5,237.17L327,237.27L327.5,237.72L328,237.62L328.5,237.42L329,237.48L329.5,237.26L330,237.74L330.5,237.42L331,237.76L331.5,237.57L332,237.2L332.5,237.38L333,237.3L333.5,237.77L334,237.56L334.5,237.18L335,237.27L335.5,237.4L336,237.48L336.5,237.55L337,237.42L337.5,237.4L338,237.15L338.5,237.55L339,237.38L339.5,237.16L340,237.5" fill="none" stroke="#000" stroke-width="1.4"/>
<path d="M174.55,238L174.85,222.4L175.3,221.8L175.75,222.4L176.05,238Z" fill="#000"/>
<path d="M177.45,238L177.75,228.6L178.2,228L178.65,228.6L178.95,238Z" fill="#000"/>
<path d="M273.65,238L273.95,229.2L274.4,228.6L274.85,229.2L275.15,238Z" fill="#000"/>
<path d="M280.6,238L280.9,221.4L281.4,220.8L281.9,221.4L282.2,238Z" fill="#000"/>
<path d="M293.9,238L294.2,231.2L294.7,230.6L295.2,231.2L295.5,238Z" fill="#000"/>
<path d="M294.75,238L295.05,231.4L295.5,230.8L295.95,231.4L296.25,238Z" fill="#000"/>
<path d="M303.75,238L304.05,228.2L304.5,227.6L304.95,228.2L305.25,238Z" fill="#000"/>
<path d="M304.55,238L304.85,228.8L305.3,228.2L305.75,228.8L306.05,238Z" fill="#000"/>
<path d="M306.5,238L306.8,229.4L307.2,228.8L307.6,229.4L307.9,238Z" fill="#000"/>
<path d="M307.3,238L307.6,228.8L308,228.2L308.4,228.8L308.7,238Z" fill="#000"/>
<path d="M308.9,238L309.2,221.8L309.7,221.2L310.2,221.8L310.5,238Z" fill="#000"/>
<path d="M310.15,238L310.45,231.6L310.9,231L311.35,231.6L311.65,238Z" fill="#000"/>
<path d="M315.05,238L315.35,230.8L315.8,230.2L316.25,230.8L316.55,238Z" fill="#000"/>
<path d="M316,238L316.3,231.4L316.7,230.8L317.1,231.4L317.4,238Z" fill="#000"/>
<path d="M327,238L327.3,236L327.6,229.1L327.9,228.8L328.2,229.1L328.5,233.5L328.7,233.5L329,230.1L329.3,229.8L329.6,230.1L329.9,234L330,234L330.3,229.3L330.6,229L330.9,229.3L331.2,233L332.5,233L332.8,224.4L333.1,224.1L333.4,224.4L333.7,230L333.7,230L334,221.5L334.3,221.2L334.6,221.5L334.9,231L335.4,231L335.7,224.8L336,224.5L336.3,224.8L336.6,229L336.9,229L337.2,225.6L337.5,225.3L337.8,225.6L338.1,230L337.8,230L338.1,226.3L338.4,226L338.7,226.3L339,237L339,238Z" fill="#000"/>
<line x1="339.3" y1="206.3" x2="339.3" y2="241" stroke="#000" stroke-width="1.2"/>
<rect x="118.3" y="207.8" width="208.6" height="12.4" fill="#c4c4c4"/>
<path d="M26.4,272.4L72.9,272.4L73.2,272L73.3,253L76,251.3L90,246.2L100,245.6L341,245.6L341,272.6" fill="none" stroke="#000" stroke-width="1.3" stroke-linejoin="round"/>
<rect x="25.55" y="12.1" width="332.95" height="34.8" fill="none" stroke="#111" stroke-width="1.6" rx="0.8"/>
<rect x="25.55" y="50.8" width="332.95" height="35" fill="none" stroke="#111" stroke-width="1.6" rx="0.8"/>
<rect x="25.55" y="89.3" width="332.95" height="35.3" fill="none" stroke="#111" stroke-width="1.6" rx="0.8"/>
<rect x="25.55" y="127.9" width="332.95" height="35.8" fill="none" stroke="#111" stroke-width="1.6" rx="0.8"/>
<rect x="25.55" y="166.6" width="332.95" height="36.2" fill="none" stroke="#111" stroke-width="1.6" rx="0.8"/>
<rect x="25.55" y="205.8" width="332.95" height="35.7" fill="none" stroke="#111" stroke-width="1.6" rx="0.8"/>
<rect x="25.55" y="244.3" width="332.95" height="29" fill="none" stroke="#111" stroke-width="1.6" rx="0.8"/>
<text x="22.3" y="18.0" font-size="9.8" text-anchor="end" fill="#111" textLength="4.8" lengthAdjust="spacingAndGlyphs" stroke="#111" stroke-width="0.218">4</text>
<text x="22.3" y="31.8" font-size="9.8" text-anchor="end" fill="#111" textLength="4.8" lengthAdjust="spacingAndGlyphs" stroke="#111" stroke-width="0.218">3</text>
<text x="22.3" y="47.0" font-size="9.8" text-anchor="end" fill="#111" textLength="4.8" lengthAdjust="spacingAndGlyphs" stroke="#111" stroke-width="0.218">2</text>
<text x="22.3" y="56.3" font-size="9.8" text-anchor="end" fill="#111" textLength="4.8" lengthAdjust="spacingAndGlyphs" stroke="#111" stroke-width="0.218">3</text>
<text x="22.3" y="70.5" font-size="9.8" text-anchor="end" fill="#111" textLength="4.8" lengthAdjust="spacingAndGlyphs" stroke="#111" stroke-width="0.218">2</text>
<text x="22.3" y="85.7" font-size="9.8" text-anchor="end" fill="#111" textLength="4.8" lengthAdjust="spacingAndGlyphs" stroke="#111" stroke-width="0.218">1</text>
<text x="22.3" y="95.2" font-size="9.8" text-anchor="end" fill="#111" textLength="4.8" lengthAdjust="spacingAndGlyphs" stroke="#111" stroke-width="0.218">4</text>
<text x="22.3" y="109.2" font-size="9.8" text-anchor="end" fill="#111" textLength="4.8" lengthAdjust="spacingAndGlyphs" stroke="#111" stroke-width="0.218">3</text>
<text x="22.3" y="124.7" font-size="9.8" text-anchor="end" fill="#111" textLength="4.8" lengthAdjust="spacingAndGlyphs" stroke="#111" stroke-width="0.218">2</text>
<text x="22.3" y="134.0" font-size="9.8" text-anchor="end" fill="#111" textLength="4.8" lengthAdjust="spacingAndGlyphs" stroke="#111" stroke-width="0.218">3</text>
<text x="22.3" y="148.5" font-size="9.8" text-anchor="end" fill="#111" textLength="4.8" lengthAdjust="spacingAndGlyphs" stroke="#111" stroke-width="0.218">2</text>
<text x="22.3" y="163.2" font-size="9.8" text-anchor="end" fill="#111" textLength="4.8" lengthAdjust="spacingAndGlyphs" stroke="#111" stroke-width="0.218">1</text>
<text x="22.3" y="172.8" font-size="9.8" text-anchor="end" fill="#111" textLength="4.8" lengthAdjust="spacingAndGlyphs" stroke="#111" stroke-width="0.218">6</text>
<text x="22.3" y="186.5" font-size="9.8" text-anchor="end" fill="#111" textLength="4.8" lengthAdjust="spacingAndGlyphs" stroke="#111" stroke-width="0.218">5</text>
<text x="22.3" y="201.7" font-size="9.8" text-anchor="end" fill="#111" textLength="4.8" lengthAdjust="spacingAndGlyphs" stroke="#111" stroke-width="0.218">4</text>
<text x="22.3" y="239.8" font-size="9.8" text-anchor="end" fill="#111" textLength="4.8" lengthAdjust="spacingAndGlyphs" stroke="#111" stroke-width="0.218">0</text>
<text x="22.3" y="250.4" font-size="9.8" text-anchor="end" fill="#111" textLength="4.8" lengthAdjust="spacingAndGlyphs" stroke="#111" stroke-width="0.218">2</text>
<text x="22.3" y="261.3" font-size="9.8" text-anchor="end" fill="#111" textLength="4.8" lengthAdjust="spacingAndGlyphs" stroke="#111" stroke-width="0.218">1</text>
<text x="22.3" y="273.5" font-size="9.8" text-anchor="end" fill="#111" textLength="4.8" lengthAdjust="spacingAndGlyphs" stroke="#111" stroke-width="0.218">0</text>
<text x="0.2" y="211.0" font-size="8.8" fill="#111" stroke="#111" stroke-width="0.196">2</text>
<circle cx="5.8" cy="208.6" r="1.0" fill="#111"/>
<text x="7.9" y="211.0" font-size="8.8" fill="#111" textLength="7.6" lengthAdjust="spacingAndGlyphs" stroke="#111" stroke-width="0.196">10</text>
<text x="16.8" y="208.2" font-size="6.4" fill="#111" textLength="6.8" lengthAdjust="spacingAndGlyphs" stroke="#111" stroke-width="0.09">19</text>
<text x="0.2" y="225.5" font-size="8.8" fill="#111" stroke="#111" stroke-width="0.196">1</text>
<circle cx="5.8" cy="222.9" r="1.0" fill="#111"/>
<text x="7.9" y="225.5" font-size="8.8" fill="#111" textLength="7.6" lengthAdjust="spacingAndGlyphs" stroke="#111" stroke-width="0.196">10</text>
<text x="16.8" y="222.7" font-size="6.4" fill="#111" textLength="6.8" lengthAdjust="spacingAndGlyphs" stroke="#111" stroke-width="0.09">19</text>
<text x="34.3" y="285.7" font-size="11.2" text-anchor="middle" fill="#111" font-weight="normal"  stroke="#111" stroke-width="0.249">1</text>
<text x="113.6" y="285.7" font-size="11.2" text-anchor="middle" fill="#111" font-weight="normal"  stroke="#111" stroke-width="0.249">3</text>
<text x="192.9" y="285.7" font-size="11.2" text-anchor="middle" fill="#111" font-weight="normal"  stroke="#111" stroke-width="0.249">5</text>
<text x="272.2" y="285.7" font-size="11.2" text-anchor="middle" fill="#111" font-weight="normal"  stroke="#111" stroke-width="0.249">7</text>
<text x="351.9" y="285.7" font-size="11.2" text-anchor="middle" fill="#111" font-weight="normal"  stroke="#111" stroke-width="0.249">9</text>
<text x="176.8" y="302.0" font-size="12.2" fill="#111" stroke-width="0.35" textLength="40.6" lengthAdjust="spacingAndGlyphs" stroke="#111">Time [s]</text>
<text x="325.4" y="9.0" font-size="11.8" fill="#111" stroke-width="0.15" textLength="29.6" lengthAdjust="spacingAndGlyphs" stroke="#111">16661</text>
<text x="339.7" y="22.9" font-size="10.4" fill="#222" stroke-width="0.08" textLength="12.0" lengthAdjust="spacingAndGlyphs" stroke="#222">(a)</text>
<text x="339.1" y="61.5" font-size="10.4" fill="#222" stroke-width="0.08" textLength="12.4" lengthAdjust="spacingAndGlyphs" stroke="#222">(b)</text>
<text x="340.9" y="98.2" font-size="10.4" fill="#222" stroke-width="0.08" textLength="11.8" lengthAdjust="spacingAndGlyphs" stroke="#222">(c)</text>
<text x="339.9" y="138.5" font-size="10.4" fill="#222" stroke-width="0.08" textLength="12.4" lengthAdjust="spacingAndGlyphs" stroke="#222">(d)</text>
<text x="339.9" y="177.6" font-size="10.4" fill="#222" stroke-width="0.08" textLength="12.2" lengthAdjust="spacingAndGlyphs" stroke="#222">(e)</text>
<text x="340.4" y="216.3" font-size="10.4" fill="#222" stroke-width="0.08" textLength="9.6" lengthAdjust="spacingAndGlyphs" stroke="#222">(f)</text>
<text x="341.6" y="253.9" font-size="10.4" fill="#222" stroke-width="0.08" textLength="12.4" lengthAdjust="spacingAndGlyphs" stroke="#222">(g)</text>
<text x="45.3" y="43.3" font-size="9" fill="#f22" stroke-width="0.15" stroke="#f22">ne,</text>
<text x="59.9" y="43.6" font-size="6.3" fill="#f22" stroke-width="0.1" textLength="9" lengthAdjust="spacingAndGlyphs" stroke="#f22">FIR</text>
<text x="70.2" y="43.3" font-size="9" fill="#f22" stroke-width="0.15" stroke="#f22">[x10</text>
<text x="87.3" y="39.4" font-size="6.6" fill="#f22" stroke-width="0.1" stroke="#f22">19</text>
<text x="97.2" y="43.3" font-size="9" fill="#f22" stroke-width="0.15" stroke="#f22">m</text>
<text x="104.9" y="39.6" font-size="6" fill="#f22" stroke-width="0.1" stroke="#f22">-3</text>
<text x="111.3" y="43.3" font-size="9" fill="#f22" stroke-width="0.15" stroke="#f22">]</text>
<text x="36.8" y="59.7" font-size="8.8" fill="#111" textLength="4.6" lengthAdjust="spacingAndGlyphs" stroke="#111" stroke-width="0.196">T</text>
<text x="41.8" y="63.4" font-size="7.2" fill="#111" stroke-width="0.12" stroke="#111">e</text>
<text x="48.2" y="59.5" font-size="8.6" fill="#111" textLength="19.8" lengthAdjust="spacingAndGlyphs" stroke="#111" stroke-width="0.191">[keV]</text>
<text x="36.2" y="114.3" font-size="9.2" fill="#111" stroke="#111" stroke-width="0.204">P</text>
<text x="41.8" y="117.2" font-size="5.8" fill="#111" stroke="#111" stroke-width="0.09">NBI</text>
<text x="53.3" y="114.3" font-size="9.2" fill="#111" textLength="22.8" lengthAdjust="spacingAndGlyphs" stroke="#111" stroke-width="0.204">[MW]</text>
<text x="35.4" y="138.2" font-size="11.5" fill="#111" style="font-family:'Liberation Serif',serif" stroke-width="0.22" stroke="#111">β</text>
<text x="43.0" y="141.8" font-size="7.6" fill="#9a9a9a" style="font-family:'Liberation Serif',serif" stroke-width="0.1" stroke="#9a9a9a">N</text>
<text x="37.3" y="175.3" font-size="8.6" fill="#111" stroke-width="0.15" stroke="#111">q</text>
<text x="42.0" y="178.1" font-size="8.6" fill="#111" stroke-width="0.15" textLength="10" lengthAdjust="spacingAndGlyphs" stroke="#111">95</text>
<text x="37.7" y="216.0" font-size="9.2" fill="#111" stroke="#111" stroke-width="0.204">Dα [a.u.]</text>
<text x="182.4" y="217.2" font-size="9.8" fill="#222" textLength="78.2" lengthAdjust="spacingAndGlyphs" stroke="#222" stroke-width="0.218">Suppressed for ~ 50</text>
<text x="261.0" y="217.2" font-size="10.2" fill="#222" stroke="#222" stroke-width="0.227">τ</text>
<text x="266.4" y="219.8" font-size="6.6" fill="#222" stroke="#222" stroke-width="0.09">E</text>
<text x="27.9" y="253.0" font-size="8" fill="#111" stroke-width="0.12" stroke="#111">I</text>
<text x="31.5" y="255.6" font-size="6.8" fill="#111" stroke-width="0.1" textLength="13.2" lengthAdjust="spacingAndGlyphs" stroke="#111">RMP</text>
<text x="44.9" y="252.9" font-size="7.6" fill="#111" stroke-width="0.1" textLength="29.2" lengthAdjust="spacingAndGlyphs" stroke="#111">[kA/turn]</text>
<text x="143.7" y="262.6" font-size="9.3" fill="#111" stroke-width="0.2" textLength="34.2" lengthAdjust="spacingAndGlyphs" stroke="#111">n=1, +90</text>
<text x="180.6" y="262.6" font-size="9.3" fill="#111" stroke-width="0.2" textLength="63.6" lengthAdjust="spacingAndGlyphs" stroke="#111">degree phasing</text>
</svg></body></html>
